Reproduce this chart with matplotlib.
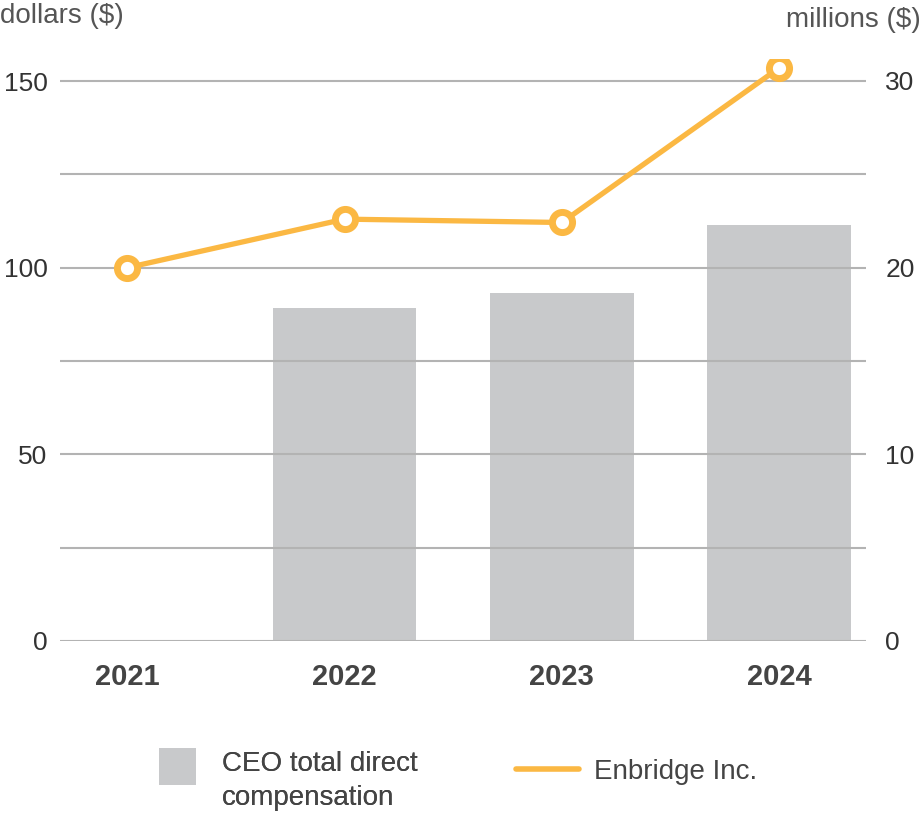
import matplotlib
matplotlib.use("Agg")
import matplotlib.pyplot as plt
from matplotlib.patches import Patch, Rectangle
from matplotlib.lines import Line2D
from matplotlib.legend_handler import HandlerPatch

years = ["2021", "2022", "2023", "2024"]
ceo_comp_millions = [0.0, 17.84, 18.62, 22.3]
enbridge_dollars = [100.0, 113.0, 112.1, 153.5]
left_ticks = [0, 50, 100, 150]
right_ticks = [0, 10, 20, 30]
grid_levels = [0, 25, 50, 75, 100, 125, 150]

plt.rcParams['font.family'] = ['Liberation Sans', 'DejaVu Sans']

BAR_C = "#c8c9cb"
LINE_C = "#fbb843"
GRID_C = "#b3b3b3"

fig = plt.figure(figsize=(9.23, 8.16), dpi=100)
ax = fig.add_axes([60/923, (816-641)/816, (866-60)/923, (641-58.6)/816])
ax2 = ax.twinx()

x = list(range(len(years)))
ymax = 156
ax.set_ylim(0, ymax)
ax2.set_ylim(0, ymax/5)
ax.set_xlim(-0.31, 3.40)

for g in grid_levels:
    ax.axhline(g, color=GRID_C, lw=1.5, zorder=0)

ax2.bar(x, ceo_comp_millions, width=0.66, color=BAR_C, zorder=1)
ax.set_zorder(2)
ax.patch.set_visible(False)
ax.plot(x, enbridge_dollars, color=LINE_C, lw=3.8, marker='o', ms=14.5,
        mfc='white', mec=LINE_C, mew=5, zorder=3, solid_capstyle='round')

for a in (ax, ax2):
    for s in a.spines.values():
        s.set_visible(False)

ax.set_yticks(left_ticks)
ax.set_yticklabels([str(t) for t in left_ticks])
ax2.set_yticks(right_ticks)
ax2.set_yticklabels([str(t) for t in right_ticks])
ax.tick_params(axis='y', length=0, pad=9, labelsize=19, labelcolor="#333333")
ax2.tick_params(axis='y', length=0, pad=14, labelsize=19, labelcolor="#333333")
ax.set_xticks(x)
ax.set_xticklabels(years, fontweight='bold')
ax.tick_params(axis='x', length=0, pad=16, labelsize=21, labelcolor="#444444")

fig.text(0.0, 1 - 16/816, "dollars ($)", fontsize=20, color="#555555",
         ha='left', va='center')
fig.text(1 - 2/923, 1 - 20/816, "millions ($)", fontsize=20, color="#555555",
         ha='right', va='center')


def square_up(legend, orig_handle, xdescent, ydescent, width, height, fontsize):
    return Rectangle((-xdescent, -ydescent + 0.45 * fontsize), width, width)


h1 = [Patch(facecolor=BAR_C, edgecolor='none')]
leg1 = fig.legend(h1, ["CEO total direct\ncompensation"], loc='center left',
                  bbox_to_anchor=(134/923, 1 - 781/816), frameon=False,
                  fontsize=20, handlelength=1.33, handleheight=1.33,
                  handletextpad=0.95, labelcolor="#444444",
                  handler_map={Patch: HandlerPatch(patch_func=square_up)})
for t in leg1.get_texts():
    t.set_linespacing(1.4)
fig.add_artist(leg1)
h2 = [Line2D([0], [0], color=LINE_C, lw=4, solid_capstyle='round')]
fig.legend(h2, ["Enbridge Inc."], loc='center left',
           bbox_to_anchor=(491/923, 1 - 772/816), frameon=False,
           fontsize=20, handlelength=2.27, handletextpad=0.55, labelcolor="#444444")

fig.savefig("out.png", dpi=100)
